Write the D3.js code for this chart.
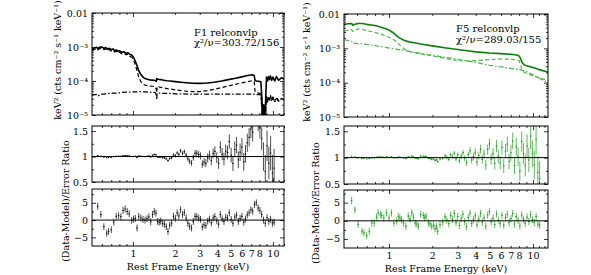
<!DOCTYPE html>
<html>
<head>
<meta charset="utf-8">
<script src="https://cdn.jsdelivr.net/npm/d3@7"></script>
<style>
  body { margin: 0; background: #fff; }
  svg text { font-family: "DejaVu Serif", serif; font-size: 9.5px; fill: #000; }
</style>
</head>
<body>
<svg id="fig" width="591" height="275"></svg>
<script>
(function() {

// ---------- F1 : model curves (keV, keV^2 cts cm^-2 s^-1 keV^-1) ----------
var f1ModelE = [0.51,0.53,0.55,0.56,0.58,0.60,0.62,0.64,0.66,0.68,
  0.70,0.72,0.74,0.76,0.78,0.80,0.83,0.86,0.89,0.92,
  0.95,0.98,1.01,1.04,1.07,1.10,1.14,1.18,1.22,1.27,
  1.32,1.38,1.44,1.47,1.48,1.49,1.52,1.58,1.66,1.75,
  1.85,2.0,2.2,2.4,2.7,3.0,3.4,3.8,4.3,4.8,
  5.4,6.0,6.6,7.1,7.35,7.45,7.6,7.9,8.2,8.35,
  8.45,8.6,8.75,8.9,9.0,9.15,9.3,9.45,9.6,9.8,
  10.0,10.3,10.6,11.0,11.5,12.0];
var f1Total = [8.5e-4,9.3e-4,9.8e-4,9.0e-4,9.9e-4,1.0e-3,9.2e-4,9.6e-4,8.6e-4,9.2e-4,
  8.3e-4,8.8e-4,7.8e-4,8.2e-4,7.4e-4,7.8e-4,7.0e-4,7.3e-4,6.6e-4,6.8e-4,
  6.0e-4,5.8e-4,5.0e-4,3.8e-4,2.8e-4,2.0e-4,1.55e-4,1.3e-4,1.18e-4,1.12e-4,
  1.08e-4,1.06e-4,1.04e-4,9.8e-5,1.18e-4,1.14e-4,1.12e-4,1.1e-4,1.05e-4,1.02e-4,
  1.0e-4,9.6e-5,9.2e-5,8.9e-5,8.6e-5,8.5e-5,8.7e-5,9.2e-5,1.0e-4,1.1e-4,
  1.2e-4,1.32e-4,1.45e-4,1.52e-4,1.45e-4,1.05e-4,1.0e-4,9.8e-5,9.5e-5,3e-5,
  6e-6,2e-5,5e-6,4e-5,1.3e-4,1.0e-4,1.35e-4,1.1e-4,1.4e-4,1.05e-4,
  1.3e-4,1.0e-4,1.35e-4,1.05e-4,1.25e-4,1.15e-4];
var f1Refl = [7.8e-4,8.5e-4,9.0e-4,8.2e-4,9.0e-4,9.2e-4,8.4e-4,8.8e-4,7.8e-4,8.4e-4,
  7.6e-4,8.0e-4,7.1e-4,7.5e-4,6.7e-4,7.1e-4,6.3e-4,6.6e-4,5.9e-4,6.1e-4,
  5.3e-4,5.0e-4,4.2e-4,3.0e-4,2.0e-4,1.3e-4,9.5e-5,8.2e-5,7.6e-5,7.3e-5,
  7.1e-5,7.0e-5,6.8e-5,5.5e-5,4.5e-5,7.0e-5,6.8e-5,6.5e-5,6.2e-5,6.0e-5,
  5.8e-5,5.5e-5,5.2e-5,5.0e-5,4.9e-5,4.9e-5,5.2e-5,5.7e-5,6.4e-5,7.2e-5,
  8.0e-5,8.8e-5,9.6e-5,1.02e-4,9.8e-5,5.0e-5,4.5e-5,4.4e-5,4.2e-5,1.5e-5,
  4e-6,1e-5,3e-6,1.5e-5,3.5e-5,2.6e-5,3.6e-5,2.8e-5,3.8e-5,2.7e-5,
  3.4e-5,2.5e-5,3.3e-5,2.6e-5,3.1e-5,2.8e-5];
var f1Cont = [3.9e-5,4.0e-5,4.0e-5,3.6e-5,3.9e-5,4.1e-5,4.1e-5,4.2e-5,4.2e-5,4.3e-5,
  4.3e-5,4.4e-5,4.4e-5,4.4e-5,4.5e-5,4.5e-5,4.6e-5,4.6e-5,4.7e-5,4.7e-5,
  4.7e-5,4.8e-5,4.8e-5,4.8e-5,4.8e-5,4.9e-5,4.9e-5,4.8e-5,4.8e-5,4.7e-5,
  4.7e-5,4.6e-5,4.6e-5,3.8e-5,2.8e-5,4.4e-5,4.4e-5,4.4e-5,4.3e-5,4.3e-5,
  4.3e-5,4.2e-5,4.2e-5,4.1e-5,4.1e-5,4.1e-5,4.1e-5,4.1e-5,4.1e-5,4.1e-5,
  4.1e-5,4.1e-5,4.1e-5,4.1e-5,4.1e-5,4.1e-5,4.0e-5,4.0e-5,3.9e-5,1.4e-5,
  4e-6,9e-6,3e-6,1.4e-5,3.2e-5,2.4e-5,3.4e-5,2.6e-5,3.5e-5,2.5e-5,
  3.2e-5,2.4e-5,3.1e-5,2.5e-5,3.0e-5,2.7e-5];

// ---------- F1 : binned data ----------
var f1E = [0.56,0.59,0.62,0.65,0.67,0.70,0.73,0.76,0.79,0.82,
  0.85,0.88,0.91,0.94,0.98,1.01,1.04,1.07,1.10,1.14,
  1.18,1.22,1.26,1.30,1.34,1.38,1.42,1.46,1.50,1.54,
  1.58,1.63,1.68,1.73,1.78,1.83,1.89,1.95,2.01,2.07,
  2.13,2.19,2.26,2.33,2.40,2.47,2.54,2.62,2.70,2.78,
  2.86,2.95,3.04,3.13,3.22,3.32,3.42,3.52,3.63,3.74,
  3.85,3.97,4.09,4.21,4.34,4.47,4.60,4.74,4.88,5.03,
  5.18,5.34,5.50,5.66,5.83,6.01,6.19,6.37,6.56,6.76,
  6.96,7.17,7.39,7.61,7.84,8.07,8.31,8.56,8.82,9.08,
  9.35,9.63,9.92,10.2];
var f1Ratio = [1.020,1.008,0.989,0.977,0.980,0.983,0.996,1.007,1.008,1.007,
  1.020,1.022,1.018,1.014,0.999,1.003,1.005,0.977,1.011,1.007,
  1.002,1.000,1.005,1.012,0.993,1.024,1.040,1.034,0.993,0.989,
  0.994,0.981,0.974,0.956,0.921,0.961,0.975,1.033,1.016,1.071,
  1.043,1.114,1.064,1.095,1.028,0.956,0.906,0.874,0.977,1.067,
  1.064,1.040,1.014,0.852,0.891,0.869,0.974,1.027,0.925,1.059,
  1.100,0.979,0.868,1.184,1.048,0.950,1.104,1.081,1.294,1.029,
  0.865,1.140,1.224,0.934,1.085,1.187,0.895,1.053,1.270,1.378,
  1.540,1.481,1.855,1.950,1.700,1.560,1.352,1.000,0.712,1.210,
  0.872,1.068,0.676,0.772];
var f1RatioErr = [0.005,0.005,0.006,0.006,0.006,0.006,0.006,0.006,0.006,0.007,
  0.007,0.007,0.007,0.008,0.008,0.009,0.009,0.010,0.010,0.011,
  0.011,0.012,0.012,0.013,0.014,0.015,0.016,0.017,0.018,0.019,
  0.020,0.021,0.022,0.023,0.024,0.026,0.028,0.030,0.032,0.034,
  0.036,0.038,0.040,0.043,0.046,0.049,0.052,0.055,0.058,0.061,
  0.064,0.067,0.070,0.074,0.078,0.082,0.086,0.090,0.094,0.098,
  0.100,0.105,0.110,0.115,0.120,0.125,0.130,0.135,0.140,0.145,
  0.150,0.155,0.160,0.165,0.170,0.170,0.175,0.175,0.180,0.180,
  0.180,0.185,0.190,0.190,0.200,0.200,0.220,0.280,0.320,0.300,
  0.320,0.340,0.360,0.380];
var f1Resid = [4.0,1.6,-1.9,-3.8,-3.3,-2.8,-0.6,1.1,1.3,1.0,
  2.8,3.2,2.5,1.8,-0.1,0.3,0.5,-2.3,1.1,0.6,
  0.2,0.0,0.4,0.9,-0.5,1.6,2.5,2.0,-0.4,-0.6,
  -0.3,-0.9,-1.2,-1.9,-3.3,-1.5,-0.9,1.1,0.5,2.1,
  1.2,3.0,1.6,2.2,0.6,-0.9,-1.8,-2.3,-0.4,1.1,
  1.0,0.6,0.2,-2.0,-1.4,-1.6,-0.3,0.3,-0.8,0.6,
  1.0,-0.2,-1.2,1.6,0.4,-0.4,0.8,0.6,2.1,0.2,
  -0.9,0.9,1.4,-0.4,0.5,1.1,-0.6,0.3,1.5,2.1,
  3.0,2.6,4.5,5.0,3.5,2.8,1.6,0.0,-0.9,0.7,
  -0.4,0.2,-0.9,-0.6];

// ---------- F5 : model curves ----------
var f5ModelE = [0.49,0.52,0.55,0.56,0.58,0.61,0.65,0.70,0.75,0.80,
  0.85,0.90,0.95,1.0,1.05,1.1,1.15,1.2,1.26,1.32,
  1.4,1.5,1.7,2.0,2.5,3.0,3.5,4.0,5.0,6.0,
  7.0,7.7,8.0,8.2,8.4,8.7,9.0,10.0,11.0,12.7];
var f5Total = [5.0e-3,5.2e-3,5.3e-3,4.7e-3,5.0e-3,5.3e-3,5.3e-3,5.0e-3,4.8e-3,4.6e-3,
  4.3e-3,4.0e-3,3.7e-3,3.4e-3,3.0e-3,2.6e-3,2.2e-3,1.95e-3,1.75e-3,1.62e-3,
  1.52e-3,1.45e-3,1.32e-3,1.18e-3,1.02e-3,9.2e-4,8.5e-4,7.9e-4,7.3e-4,7.0e-4,
  6.7e-4,6.4e-4,6.0e-4,5.0e-4,3.8e-4,3.3e-4,3.1e-4,2.75e-4,2.4e-4,2.05e-4];
var f5Refl = [3.2e-3,3.4e-3,3.5e-3,3.1e-3,3.4e-3,3.7e-3,3.6e-3,3.3e-3,3.1e-3,2.9e-3,
  2.7e-3,2.5e-3,2.3e-3,2.1e-3,1.9e-3,1.7e-3,1.45e-3,1.2e-3,1.0e-3,8.8e-4,
  8.0e-4,7.5e-4,6.8e-4,6.0e-4,5.0e-4,4.4e-4,4.3e-4,4.4e-4,4.7e-4,4.9e-4,
  4.8e-4,4.6e-4,4.3e-4,3.2e-4,2.3e-4,2.0e-4,1.85e-4,1.6e-4,1.4e-4,1.15e-4];
var f5Cont = [1.75e-3,1.7e-3,1.6e-3,1.4e-3,1.4e-3,1.38e-3,1.35e-3,1.3e-3,1.25e-3,1.2e-3,
  1.15e-3,1.1e-3,1.06e-3,1.02e-3,9.9e-4,9.6e-4,9.3e-4,9.0e-4,8.7e-4,8.4e-4,
  8.0e-4,7.6e-4,7.0e-4,6.3e-4,5.4e-4,4.8e-4,4.3e-4,3.9e-4,3.2e-4,2.9e-4,
  2.6e-4,2.45e-4,2.4e-4,2.35e-4,2.3e-4,2.2e-4,2.1e-4,1.7e-4,1.35e-4,1.0e-4];

// ---------- F5 : binned data ----------
var f5E = [0.55,0.58,0.61,0.65,0.67,0.70,0.73,0.76,0.79,0.82,
  0.84,0.87,0.89,0.92,0.96,1.00,1.04,1.08,1.13,1.16,
  1.19,1.22,1.26,1.31,1.36,1.40,1.44,1.48,1.52,1.56,
  1.60,1.66,1.73,1.77,1.81,1.88,1.93,1.98,2.04,2.09,
  2.14,2.18,2.26,2.36,2.45,2.52,2.60,2.68,2.76,2.84,
  2.92,3.00,3.08,3.17,3.26,3.35,3.45,3.55,3.65,3.75,
  3.86,3.97,4.08,4.20,4.32,4.44,4.57,4.70,4.84,4.98,
  5.12,5.27,5.42,5.58,5.74,5.91,6.08,6.26,6.44,6.63,
  6.82,7.02,7.22,7.43,7.65,7.87,8.10,8.34,8.58,8.83,
  9.09,9.35,9.62,9.90,10.2,10.5,10.8,11.1];
var f5Ratio = [1.028,1.015,0.995,0.983,0.980,0.975,0.983,0.996,0.996,1.007,
  1.015,1.013,1.012,1.006,1.018,1.007,1.020,0.995,0.999,1.012,
  1.008,1.003,0.993,0.982,1.016,1.007,1.029,1.014,0.992,0.987,
  0.978,1.029,1.026,1.015,1.023,0.989,0.982,0.969,0.974,0.949,
  0.962,0.928,0.973,0.988,1.035,1.007,0.971,1.057,1.016,1.084,
  0.978,1.055,0.938,1.030,1.095,0.989,0.907,1.054,1.132,0.954,
  1.021,1.101,0.918,1.039,1.162,0.966,1.070,0.862,1.154,1.260,
  0.969,1.076,0.888,1.220,1.024,0.901,1.192,0.840,1.124,1.257,
  0.926,1.092,1.316,0.852,1.204,1.018,0.745,1.304,1.080,0.853,
  1.220,0.954,1.408,1.075,0.865,1.348,0.721,0.604];
var f5RatioErr = [0.005,0.005,0.005,0.006,0.006,0.006,0.006,0.006,0.007,0.007,
  0.007,0.007,0.008,0.008,0.008,0.009,0.009,0.009,0.010,0.010,
  0.010,0.011,0.011,0.012,0.012,0.013,0.013,0.014,0.014,0.015,
  0.015,0.016,0.017,0.017,0.018,0.019,0.020,0.021,0.022,0.023,
  0.024,0.025,0.027,0.029,0.032,0.034,0.036,0.038,0.040,0.042,
  0.044,0.046,0.048,0.050,0.053,0.055,0.058,0.060,0.063,0.066,
  0.069,0.072,0.075,0.078,0.081,0.084,0.088,0.092,0.096,0.100,
  0.104,0.108,0.112,0.116,0.120,0.124,0.128,0.133,0.138,0.143,
  0.148,0.153,0.158,0.164,0.170,0.176,0.182,0.190,0.200,0.210,
  0.220,0.230,0.240,0.250,0.270,0.290,0.310,0.330];
var f5Resid = [5.6,3.0,-1.0,-2.9,-3.3,-4.1,-2.9,-0.6,-0.6,1.0,
  2.2,1.8,1.5,0.8,2.2,0.8,2.2,-0.6,-0.1,1.2,
  0.8,0.3,-0.6,-1.5,1.3,0.5,2.2,1.0,-0.6,-0.9,
  -1.5,1.8,1.5,0.9,1.3,-0.6,-0.9,-1.5,-1.2,-2.2,
  -1.6,-2.9,-1.0,-0.4,1.1,0.2,-0.8,1.5,0.4,2.0,
  -0.5,1.2,-1.3,0.6,1.8,-0.2,-1.6,0.9,2.1,-0.7,
  0.3,1.4,-1.1,0.5,2.0,-0.4,0.8,-1.5,1.6,2.6,
  -0.3,0.7,-1.0,1.9,0.2,-0.8,1.5,-1.2,0.9,1.8,
  -0.5,0.6,2.0,-0.9,1.2,0.1,-1.4,1.6,0.4,-0.7,
  1.0,-0.2,1.7,0.3,-0.5,1.2,-0.9,-1.2];

// ---------- ticks ----------
var xMajor = [1, 10];
var xMinor = [0.6,0.7,0.8,0.9,2,3,4,5,6,7,8,9,11,12];
var xLabelVals = [1,2,3,4,5,6,7,8,10];
var specMajor = [1e-5,1e-4,1e-3,1e-2];
var specLabels = ["10\u207B\u2075","10\u207B\u2074","10\u207B\u00B3","0.01"];
var specMinor = [];
[1e-5,1e-4,1e-3].forEach(function(d) { for (var k=2; k<10; k++) specMinor.push(d*k); });
var ratioMajor = [0.5,1,1.5], ratioLabels = ["0.5","1","1.5"], ratioMinor = [0.75,1.25];
var residMajor = [-5,0,5], residLabels = ["\u22125","0","5"], residMinor = [-2.5,2.5,7.5];

var svg = d3.select("#fig");
var FONT = "DejaVu Serif", FS = 9.5;

function edge(g, gen, scale, tr, vals, len, fmt) {
  var a = gen(scale).tickValues(vals).tickSize(-len).tickPadding(4)
    .tickFormat(fmt || function() { return ""; });
  var s = g.append("g").attr("transform", tr).call(a)
    .attr("font-family", FONT).attr("font-size", FS);
  s.select(".domain").remove();
  s.selectAll(".tick line").attr("stroke-width", 0.8);
  return s;
}

function lookup(vals, labels) {
  return function(d) { var i = vals.indexOf(d); return i < 0 ? "" : labels[i]; };
}

function frame(g, x, y, yTop, yBot, yMaj, yMin, yFmt, showX) {
  var x0 = x.range()[0], x1 = x.range()[1];
  var xf = showX ? function(d) { return xLabelVals.indexOf(d) < 0 ? "" : String(d); } : null;
  edge(g, d3.axisBottom, x, "translate(0," + yBot + ")", xMajor, 4, xf);
  edge(g, d3.axisBottom, x, "translate(0," + yBot + ")", xMinor, 2, xf);
  edge(g, d3.axisTop, x, "translate(0," + yTop + ")", xMajor, 4);
  edge(g, d3.axisTop, x, "translate(0," + yTop + ")", xMinor, 2);
  edge(g, d3.axisLeft, y, "translate(" + x0 + ",0)", yMaj, 4, yFmt);
  edge(g, d3.axisLeft, y, "translate(" + x0 + ",0)", yMin, 2);
  edge(g, d3.axisRight, y, "translate(" + x1 + ",0)", yMaj, 4);
  edge(g, d3.axisRight, y, "translate(" + x1 + ",0)", yMin, 2);
  g.append("rect").attr("x", x0).attr("y", yTop)
    .attr("width", x1 - x0).attr("height", yBot - yTop)
    .attr("fill", "none").attr("stroke", "#000").attr("stroke-width", 1);
}

function clip(id, x0, y0, x1, y1) {
  svg.append("clipPath").attr("id", id).append("rect")
    .attr("x", x0).attr("y", y0).attr("width", x1 - x0).attr("height", y1 - y0);
  return "url(#" + id + ")";
}

function errorBars(g, x, y, E, val, err, c) {
  var pts = E.map(function(e, i) { return {e: e, v: val[i], s: err[i]}; });
  g.selectAll(null).data(pts).enter().append("line")
    .attr("x1", function(d) { return x(d.e); }).attr("x2", function(d) { return x(d.e); })
    .attr("y1", function(d) { return y(d.v - d.s); }).attr("y2", function(d) { return y(d.v + d.s); })
    .attr("stroke", c.err).attr("stroke-width", 1).attr("stroke-opacity", c.errOp);
  g.selectAll(null).data(pts).enter().append("line")
    .attr("x1", function(d) { return x(d.e * 0.988); }).attr("x2", function(d) { return x(d.e * 1.012); })
    .attr("y1", function(d) { return y(d.v); }).attr("y2", function(d) { return y(d.v); })
    .attr("stroke", c.pt).attr("stroke-width", 1);
}

function column(p) {
  var x = d3.scaleLog().domain(p.xDom).range([p.x0, p.x1]);
  var yS = d3.scaleLog().domain([1e-5, 1e-2]).range([p.top[1], p.top[0]]);
  var yR = d3.scaleLinear().domain([0.5, 1.6]).range([p.rat[1], p.rat[0]]);
  var yD = d3.scaleLinear().domain(p.resDom).range([p.res[1], p.res[0]]);
  var g = svg.append("g");

  // spectrum panel
  var cs = clip(p.id + "s", p.x0, p.top[0], p.x1, p.top[1]);
  var line = d3.line().x(function(d) { return x(d[0]); }).y(function(d) { return yS(d[1]); });
  var gl = g.append("g").attr("clip-path", cs);
  [[p.cont, p.c.model2, 1.2, "5,2,1.5,2"], [p.refl, p.c.model2, 1.2, "4,2.5"], [p.total, p.c.model, 1.6, null]]
    .forEach(function(m) {
      gl.append("path").datum(d3.zip(p.modelE, m[0])).attr("d", line)
        .attr("fill", "none").attr("stroke", m[1]).attr("stroke-width", m[2])
        .attr("stroke-dasharray", m[3]).attr("stroke-linejoin", "round");
    });
  frame(g, x, yS, p.top[0], p.top[1], specMajor, specMinor, lookup(specMajor, specLabels), false);
  g.append("text").attr("x", p.tx).attr("y", p.ty).style("font-size", "10px").text(p.name);
  g.append("text").attr("x", p.tx).attr("y", p.ty + 10.5).style("font-size", "10px")
    .text("\u03C7\u00B2/\u03BD=" + p.chi);

  // ratio panel
  var cr = clip(p.id + "r", p.x0, p.rat[0], p.x1, p.rat[1]);
  var gr = g.append("g").attr("clip-path", cr);
  errorBars(gr, x, yR, p.E, p.ratio, p.ratioErr, p.c);
  gr.append("line").attr("x1", p.x0).attr("x2", p.x1).attr("y1", yR(1)).attr("y2", yR(1))
    .attr("stroke", "#000").attr("stroke-width", 1);
  frame(g, x, yR, p.rat[0], p.rat[1], ratioMajor, ratioMinor, lookup(ratioMajor, ratioLabels), false);

  // residual panel
  var cd = clip(p.id + "d", p.x0, p.res[0], p.x1, p.res[1]);
  var gd = g.append("g").attr("clip-path", cd);
  errorBars(gd, x, yD, p.E, p.resid, p.E.map(function() { return 1; }), p.c);
  gd.append("line").attr("x1", p.x0).attr("x2", p.x1).attr("y1", yD(0)).attr("y2", yD(0))
    .attr("stroke", "#000").attr("stroke-width", 1);
  frame(g, x, yD, p.res[0], p.res[1], residMajor, residMinor, lookup(residMajor, residLabels), true);

  // axis titles
  g.append("text").attr("text-anchor", "middle").attr("x", (p.x0 + p.x1) / 2).attr("y", p.xlabY)
    .text("Rest Frame Energy (keV)");
  g.append("text").attr("text-anchor", "middle").attr("dy", "0.35em")
    .attr("transform", "translate(" + p.yl1[0] + "," + p.yl1[1] + ") rotate(-90)")
    .text("keV\u00B2 (cts cm\u207B\u00B2 s\u207B\u00B9 keV\u207B\u00B9)");
  g.append("text").attr("text-anchor", "middle").attr("dy", "0.35em")
    .attr("transform", "translate(" + p.yl2[0] + "," + p.yl2[1] + ") rotate(-90)")
    .text("(Data-Model)/Error Ratio");
}

column({
  id: "f1", name: "F1 relconvlp", chi: "303.72/156",
  modelE: f1ModelE, total: f1Total, refl: f1Refl, cont: f1Cont,
  E: f1E, ratio: f1Ratio, ratioErr: f1RatioErr, resid: f1Resid,
  c: {model: "#000", model2: "#000", err: "#000", errOp: 0.7, pt: "#000"},
  x0: 92, x1: 284, xDom: [0.51, 12.0], top: [13, 115], rat: [126, 182], res: [189, 246],
  resDom: [-7.5, 9], tx: 194, ty: 35.5, xlabY: 270, yl1: [58, 60], yl2: [65.5, 201]
});

column({
  id: "f5", name: "F5 relconvlp", chi: "289.03/155",
  modelE: f5ModelE, total: f5Total, refl: f5Refl, cont: f5Cont,
  E: f5E, ratio: f5Ratio, ratioErr: f5RatioErr, resid: f5Resid,
  c: {model: "#0a7d0a", model2: "#4db34d", err: "#4db34d", errOp: 0.9, pt: "#128a12"},
  x0: 344, x1: 548, xDom: [0.487, 12.7], top: [14, 117], rat: [126, 184], res: [190, 248],
  resDom: [-7.5, 8.5], tx: 456, ty: 32, xlabY: 272, yl1: [307, 62], yl2: [316, 203]
});

})();
</script>
</body>
</html>
